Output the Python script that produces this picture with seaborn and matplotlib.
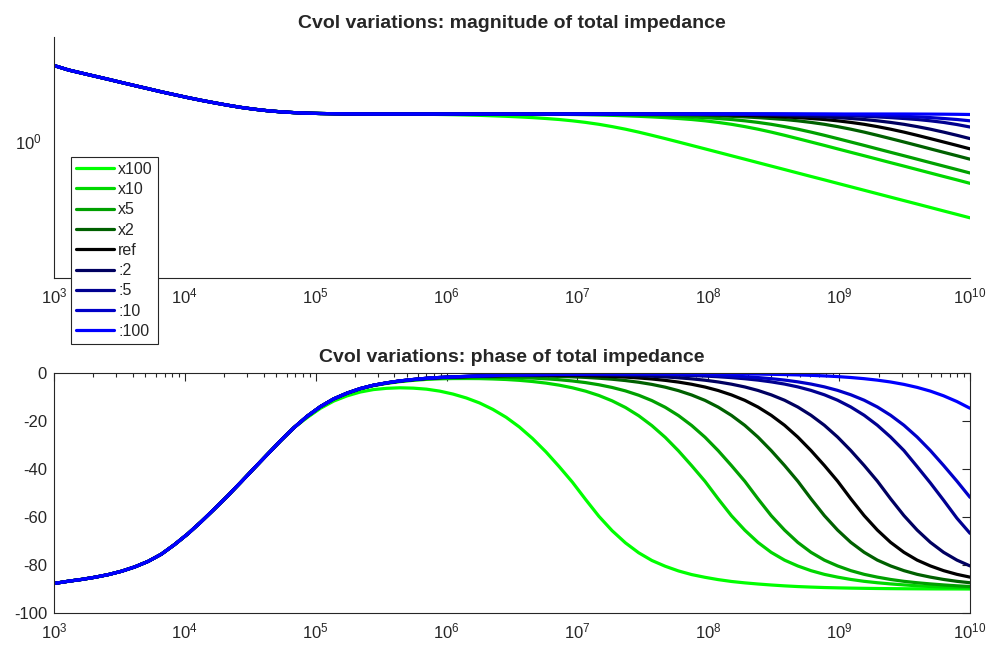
import numpy as np
import pandas as pd
import seaborn as sns
import matplotlib.pyplot as plt
from matplotlib.ticker import LogLocator, FixedLocator, NullFormatter, LogFormatterSciNotation

# frequency sample points, log10(f)
log_f_low = [3.0, 3.111, 3.212, 3.313, 3.415, 3.516, 3.617, 3.719, 3.820, 3.921,
             4.023, 4.124, 4.225, 4.327, 4.428, 4.529, 4.631, 4.732, 4.833]
log_f_high = [4.935, 5.036, 5.137, 5.239, 5.340, 5.441, 5.543, 5.644, 5.745, 5.847,
              5.948, 6.049, 6.151, 6.252, 6.353, 6.455, 6.556, 6.657, 6.759, 6.860,
              6.961, 7.063, 7.164, 7.265, 7.367, 7.468, 7.569, 7.671, 7.772, 7.873,
              7.975, 8.076, 8.177, 8.279, 8.380, 8.481, 8.583, 8.684, 8.785, 8.887,
              8.988, 9.089, 9.191, 9.292, 9.393, 9.495, 9.596, 9.697, 9.798, 9.900, 10.0]

# low frequency part, identical for all cases
mag_low = [1.2865, 1.2674, 1.2543, 1.2414, 1.2286, 1.2156, 1.2031, 1.1907, 1.1784, 1.1671,
           1.1558, 1.1455, 1.1360, 1.1269, 1.1187, 1.1120, 1.1064, 1.1023, 1.0994]
phase_low = [-87.7, -86.75, -86.0, -85.1, -84.0, -82.6, -80.8, -78.5, -75.5, -71.5,
             -67.0, -62.0, -56.7, -51.2, -45.5, -39.7, -33.9, -28.2, -22.8]

labels = ["x100", "x10", "x5", "x2", "ref", ":2", ":5", ":10", ":100"]
colors = ["#00ff00", "#00d800", "#00a000", "#006000", "#000000",
          "#000060", "#000090", "#0000c8", "#0000ff"]

mag_x100 = [1.0972, 1.0961, 1.0954, 1.0948, 1.0945, 1.0943, 1.0941, 1.0939, 1.0936, 1.0932,
            1.0925, 1.0917, 1.0906, 1.0894, 1.0877, 1.0859, 1.0837, 1.0812, 1.0780, 1.0744,
            1.0697, 1.0640, 1.0573, 1.0492, 1.0402, 1.0301, 1.0192, 1.0080, 0.9967, 0.9854,
            0.9741, 0.9630, 0.9520, 0.9411, 0.9303, 0.9197, 0.9091, 0.8987, 0.8884, 0.8783,
            0.8682, 0.8583, 0.8484, 0.8387, 0.8291, 0.8196, 0.8103, 0.8010, 0.7918, 0.7827, 0.7738]
mag_x10 = [1.0972, 1.0961, 1.0954, 1.0948, 1.0945, 1.0943, 1.0943, 1.0943, 1.0943, 1.0943,
           1.0943, 1.0943, 1.0943, 1.0943, 1.0943, 1.0943, 1.0941, 1.0939, 1.0936, 1.0932,
           1.0925, 1.0917, 1.0906, 1.0894, 1.0877, 1.0859, 1.0837, 1.0812, 1.0780, 1.0744,
           1.0697, 1.0640, 1.0573, 1.0492, 1.0402, 1.0301, 1.0192, 1.0080, 0.9967, 0.9854,
           0.9741, 0.9630, 0.9520, 0.9411, 0.9303, 0.9197, 0.9091, 0.8987, 0.8884, 0.8783, 0.8682]
mag_x5 = [1.0972, 1.0961, 1.0954, 1.0948, 1.0945, 1.0943, 1.0943, 1.0943, 1.0943, 1.0943,
          1.0943, 1.0943, 1.0943, 1.0943, 1.0943, 1.0943, 1.0943, 1.0943, 1.0943, 1.0941,
          1.0939, 1.0936, 1.0932, 1.0925, 1.0917, 1.0906, 1.0894, 1.0877, 1.0859, 1.0837,
          1.0812, 1.0780, 1.0744, 1.0697, 1.0640, 1.0573, 1.0492, 1.0402, 1.0301, 1.0192,
          1.0080, 0.9967, 0.9854, 0.9741, 0.9630, 0.9520, 0.9411, 0.9303, 0.9197, 0.9091, 0.8987]
mag_x2 = [1.0972, 1.0961, 1.0954, 1.0948, 1.0945, 1.0943, 1.0943, 1.0943, 1.0943, 1.0943,
          1.0943, 1.0943, 1.0943, 1.0943, 1.0943, 1.0943, 1.0943, 1.0943, 1.0943, 1.0943,
          1.0943, 1.0943, 1.0943, 1.0941, 1.0939, 1.0936, 1.0932, 1.0925, 1.0917, 1.0906,
          1.0894, 1.0877, 1.0859, 1.0837, 1.0812, 1.0780, 1.0744, 1.0697, 1.0640, 1.0573,
          1.0492, 1.0402, 1.0301, 1.0192, 1.0080, 0.9967, 0.9854, 0.9741, 0.9630, 0.9520, 0.9411]
mag_ref = [1.0972, 1.0961, 1.0954, 1.0948, 1.0945, 1.0943, 1.0943, 1.0943, 1.0943, 1.0943,
           1.0943, 1.0943, 1.0943, 1.0943, 1.0943, 1.0943, 1.0943, 1.0943, 1.0943, 1.0943,
           1.0943, 1.0943, 1.0943, 1.0943, 1.0943, 1.0943, 1.0941, 1.0939, 1.0936, 1.0932,
           1.0925, 1.0917, 1.0906, 1.0894, 1.0877, 1.0859, 1.0837, 1.0812, 1.0780, 1.0744,
           1.0697, 1.0640, 1.0573, 1.0492, 1.0402, 1.0301, 1.0192, 1.0080, 0.9967, 0.9854, 0.9741]
mag_d2 = [1.0972, 1.0961, 1.0954, 1.0948, 1.0945, 1.0943, 1.0943, 1.0943, 1.0943, 1.0943,
          1.0943, 1.0943, 1.0943, 1.0943, 1.0943, 1.0943, 1.0943, 1.0943, 1.0943, 1.0943,
          1.0943, 1.0943, 1.0943, 1.0943, 1.0943, 1.0943, 1.0943, 1.0943, 1.0943, 1.0941,
          1.0939, 1.0936, 1.0932, 1.0925, 1.0917, 1.0906, 1.0894, 1.0877, 1.0859, 1.0837,
          1.0812, 1.0780, 1.0744, 1.0697, 1.0640, 1.0573, 1.0492, 1.0402, 1.0301, 1.0192, 1.0080]
mag_d5 = [1.0972, 1.0961, 1.0954, 1.0948, 1.0945, 1.0943, 1.0943, 1.0943, 1.0943, 1.0943,
          1.0943, 1.0943, 1.0943, 1.0943, 1.0943, 1.0943, 1.0943, 1.0943, 1.0943, 1.0943,
          1.0943, 1.0943, 1.0943, 1.0943, 1.0943, 1.0943, 1.0943, 1.0943, 1.0943, 1.0943,
          1.0943, 1.0943, 1.0943, 1.0941, 1.0939, 1.0936, 1.0932, 1.0925, 1.0917, 1.0906,
          1.0894, 1.0877, 1.0859, 1.0837, 1.0812, 1.0780, 1.0744, 1.0697, 1.0640, 1.0565, 1.0478]
mag_d10 = [1.0972, 1.0961, 1.0954, 1.0948, 1.0945, 1.0943, 1.0943, 1.0943, 1.0943, 1.0943,
           1.0943, 1.0943, 1.0943, 1.0943, 1.0943, 1.0943, 1.0943, 1.0943, 1.0943, 1.0943,
           1.0943, 1.0943, 1.0943, 1.0943, 1.0943, 1.0943, 1.0943, 1.0943, 1.0943, 1.0943,
           1.0943, 1.0943, 1.0943, 1.0943, 1.0943, 1.0943, 1.0941, 1.0939, 1.0936, 1.0932,
           1.0925, 1.0917, 1.0906, 1.0894, 1.0877, 1.0859, 1.0837, 1.0812, 1.0780, 1.0744, 1.0697]
mag_d100 = [1.0972, 1.0961, 1.0954, 1.0948, 1.0945, 1.0943, 1.0943, 1.0943, 1.0943, 1.0943,
            1.0943, 1.0943, 1.0943, 1.0943, 1.0943, 1.0943, 1.0943, 1.0943, 1.0943, 1.0943,
            1.0943, 1.0943, 1.0943, 1.0943, 1.0943, 1.0943, 1.0943, 1.0943, 1.0943, 1.0943,
            1.0943, 1.0943, 1.0943, 1.0943, 1.0943, 1.0943, 1.0943, 1.0943, 1.0943, 1.0943,
            1.0943, 1.0943, 1.0943, 1.0943, 1.0943, 1.0943, 1.0941, 1.0939, 1.0936, 1.0932, 1.0925]

ph_x100 = [-18.57, -14.72, -11.71, -9.54, -7.94, -6.91, -6.38, -6.17, -6.31, -6.74,
           -7.56, -8.78, -10.41, -12.48, -15.15, -18.45, -22.49, -27.3, -32.85, -38.98,
           -45.45, -52.74, -59.71, -65.7, -70.78, -74.9, -78.12, -80.52, -82.47, -83.99,
           -85.13, -86.09, -86.86, -87.44, -87.92, -88.33, -88.69, -88.98, -89.2, -89.39,
           -89.52, -89.63, -89.72, -89.79, -89.85, -89.89, -89.92, -89.95, -89.97, -89.98, -90.0]
ph_x10 = [-18.06, -14.07, -10.89, -8.51, -6.64, -5.28, -4.33, -3.59, -3.06, -2.66,
          -2.42, -2.32, -2.31, -2.34, -2.49, -2.71, -3.06, -3.55, -4.21, -5.06,
          -6.16, -7.58, -9.37, -11.6, -14.38, -17.8, -21.93, -26.82, -32.43, -38.62,
          -45.14, -52.47, -59.47, -65.49, -70.6, -74.74, -77.98, -80.4, -82.36, -83.9,
          -85.05, -86.02, -86.8, -87.39, -87.88, -88.29, -88.66, -88.95, -89.18, -89.37, -89.51]
ph_x5 = [-18.03, -14.04, -10.85, -8.46, -6.57, -5.19, -4.21, -3.44, -2.88, -2.43,
         -2.14, -1.96, -1.86, -1.77, -1.77, -1.81, -1.92, -2.12, -2.41, -2.8,
         -3.32, -4.01, -4.9, -6.03, -7.46, -9.26, -11.5, -14.3, -17.73, -21.87,
         -26.76, -32.38, -38.58, -45.11, -52.44, -59.44, -65.46, -70.58, -74.72, -77.97,
         -80.38, -82.35, -83.89, -85.05, -86.02, -86.8, -87.39, -87.88, -88.3, -88.67, -88.96]
ph_x2 = [-18.01, -14.01, -10.82, -8.42, -6.53, -5.14, -4.15, -3.36, -2.77, -2.29,
         -1.96, -1.74, -1.58, -1.43, -1.34, -1.26, -1.24, -1.25, -1.32, -1.43,
         -1.59, -1.84, -2.17, -2.6, -3.15, -3.86, -4.76, -5.91, -7.36, -9.17,
         -11.42, -14.23, -17.67, -21.82, -26.72, -32.34, -38.54, -45.08, -52.41, -59.42,
         -65.44, -70.56, -74.71, -77.96, -80.38, -82.35, -83.89, -85.05, -86.02, -86.8, -87.39]
ph_ref = [-18.0, -14.0, -10.8, -8.4, -6.5, -5.1, -4.1, -3.3, -2.74, -2.25,
          -1.91, -1.67, -1.49, -1.31, -1.19, -1.08, -1.01, -0.97, -0.96, -0.98,
          -1.02, -1.12, -1.27, -1.46, -1.72, -2.06, -2.5, -3.07, -3.79, -4.7,
          -5.85, -7.31, -9.13, -11.39, -14.2, -17.64, -21.79, -26.7, -32.32, -38.53,
          -45.06, -52.4, -59.41, -65.44, -70.56, -74.71, -77.96, -80.38, -82.35, -83.89, -85.05]
ph_d2 = [-18.0, -14.0, -10.8, -8.4, -6.5, -5.1, -4.1, -3.3, -2.72, -2.22,
         -1.88, -1.64, -1.45, -1.26, -1.12, -0.99, -0.89, -0.82, -0.78, -0.75,
         -0.74, -0.76, -0.82, -0.89, -1.0, -1.16, -1.36, -1.64, -1.99, -2.44,
         -3.01, -3.74, -4.66, -5.82, -7.28, -9.1, -11.36, -14.18, -17.62, -21.78,
         -26.68, -32.31, -38.52, -45.06, -52.4, -59.41, -65.44, -70.56, -74.71, -77.96, -80.38]
ph_d5 = [-18.0, -14.0, -10.8, -8.4, -6.5, -5.1, -4.1, -3.3, -2.71, -2.21,
         -1.86, -1.62, -1.42, -1.22, -1.08, -0.94, -0.83, -0.74, -0.67, -0.61,
         -0.56, -0.54, -0.54, -0.55, -0.57, -0.61, -0.68, -0.77, -0.9, -1.07,
         -1.28, -1.57, -1.93, -2.39, -2.97, -3.7, -4.62, -5.79, -7.25, -9.08,
         -11.34, -14.16, -17.61, -21.77, -26.68, -32.31, -39.0, -45.8, -53.0, -60.5, -66.8]
ph_d10 = [-18.0, -14.0, -10.8, -8.4, -6.5, -5.1, -4.1, -3.3, -2.7, -2.2,
          -1.86, -1.61, -1.41, -1.21, -1.06, -0.92, -0.81, -0.72, -0.65, -0.58,
          -0.52, -0.49, -0.47, -0.46, -0.46, -0.48, -0.51, -0.56, -0.64, -0.73,
          -0.86, -1.04, -1.26, -1.55, -1.91, -2.37, -2.95, -3.69, -4.61, -5.78,
          -7.24, -9.07, -11.34, -14.16, -17.61, -21.77, -26.68, -32.31, -38.52, -45.06, -51.8]
ph_d100 = [-18.0, -14.0, -10.8, -8.4, -6.5, -5.1, -4.1, -3.3, -2.7, -2.2,
           -1.85, -1.6, -1.4, -1.2, -1.05, -0.9, -0.79, -0.69, -0.61, -0.53,
           -0.47, -0.42, -0.38, -0.35, -0.32, -0.3, -0.28, -0.27, -0.27, -0.27,
           -0.28, -0.31, -0.35, -0.4, -0.46, -0.55, -0.65, -0.8, -0.98, -1.21,
           -1.5, -1.88, -2.37, -2.98, -3.75, -4.75, -6.0, -7.55, -9.5, -11.9, -14.7]

mags = [mag_x100, mag_x10, mag_x5, mag_x2, mag_ref, mag_d2, mag_d5, mag_d10, mag_d100]
phases = [ph_x100, ph_x10, ph_x5, ph_x2, ph_ref, ph_d2, ph_d5, ph_d10, ph_d100]

rows = []
for lab, m, p in zip(labels, mags, phases):
    for lf, mv, pv in zip(log_f_low + log_f_high, mag_low + m, phase_low + p):
        rows.append({"f": 10.0 ** lf, "mag": mv, "phase": pv, "case": lab})
df = pd.DataFrame(rows)

sns.set_style("white")
plt.rcParams["font.family"] = ["Liberation Sans", "DejaVu Sans"]
plt.rcParams["mathtext.fontset"] = "custom"
plt.rcParams["mathtext.rm"] = "Liberation Sans"
plt.rcParams["axes.unicode_minus"] = False
axcol = "#262626"

fig = plt.figure(figsize=(9.93, 6.48), dpi=100)
ax1 = fig.add_axes([0.05438, 0.571, 0.92246, 0.3719])
ax2 = fig.add_axes([0.05438, 0.054, 0.92246, 0.3704])

for lab, col in zip(labels, colors):
    sub = df[df["case"] == lab]
    sns.lineplot(data=sub, x="f", y="mag", color=col, linewidth=2.3, label=lab, ax=ax1, sort=False)
    sns.lineplot(data=sub, x="f", y="phase", color=col, linewidth=2.3, ax=ax2, sort=False, legend=False)

for ax in (ax1, ax2):
    ax.set_xscale("log")
    ax.set_xlim(1e3, 1e10)
    ax.xaxis.set_major_locator(LogLocator(base=10, numticks=20))
    ax.xaxis.set_minor_locator(LogLocator(base=10, subs=np.arange(2, 10), numticks=20))
    ax.xaxis.set_minor_formatter(NullFormatter())
    ax.set_xlabel("")
    ax.set_ylabel("")
    for s in ax.spines.values():
        s.set_color(axcol)
        s.set_linewidth(0.8)
    ax.tick_params(which="both", direction="in", colors=axcol, labelsize=12, width=0.8)
    ax.tick_params(which="major", length=6)
    ax.tick_params(which="minor", length=3)
    ax.tick_params(axis="x", pad=6)
    ax.tick_params(axis="y", pad=5)

# magnitude panel: log y axis, no box
ax1.set_yscale("log")
ax1.set_ylim(0.633, 1.415)
ax1.yaxis.set_major_locator(FixedLocator([1.0]))
ax1.yaxis.set_major_formatter(LogFormatterSciNotation())
ax1.yaxis.set_minor_locator(FixedLocator([10 ** (k * 0.05) for k in (-4, -3, -2, -1, 1, 2, 3)]))
ax1.yaxis.set_minor_formatter(NullFormatter())
ax1.tick_params(axis="y", pad=8.5)
ax1.spines["top"].set_visible(False)
ax1.spines["right"].set_visible(False)
ax1.set_title("Cvol variations: magnitude of total impedance", fontsize=14, fontweight="bold", pad=6.5)

# phase panel: box on
ax2.set_ylim(-100, 0)
ax2.set_yticks([0, -20, -40, -60, -80, -100])
ax2.tick_params(which="both", top=True, right=True)
ax2.set_title("Cvol variations: phase of total impedance", fontsize=14, fontweight="bold", pad=8)

leg = ax1.legend(loc="upper left", bbox_to_anchor=(71 / 993, 1 - 157 / 648),
                 bbox_transform=fig.transFigure, borderaxespad=0, fontsize=11.5,
                 handlelength=2.4, handletextpad=0.25, labelspacing=0.33, borderpad=0.3,
                 fancybox=False, framealpha=1, edgecolor=axcol)
leg.get_frame().set_linewidth(0.8)
leg.set_zorder(10)

fig.savefig("out.png", dpi=100)
